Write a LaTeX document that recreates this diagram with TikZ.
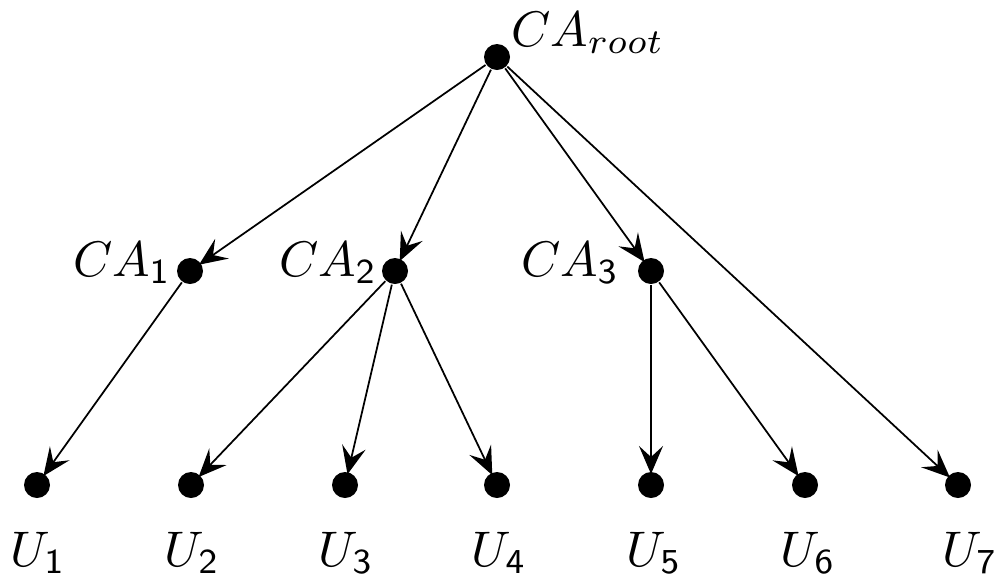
\documentclass[tikz,border=0pt]{standalone}
\usetikzlibrary{arrows.meta}
\begin{document}
\begin{tikzpicture}[x=0.2pt,y=-0.2pt,
  dot/.style={circle,fill=black,inner sep=0pt,minimum size=5.2pt},
  edge/.style={-{Stealth[length=5.6pt,width=4.8pt,inset=2.2pt]},line width=0.35pt,shorten >=-0.6pt},
  lbl/.style={inner sep=0pt}]
\useasboundingbox (0,0) rectangle (1000,575);
% tree nodes
\node[dot] (root) at (497,57) {};
\node[dot] (ca1) at (190,271) {};
\node[dot] (ca2) at (395,271) {};
\node[dot] (ca3) at (651,271) {};
\node[dot] (u1) at (37,485) {};
\node[dot] (u2) at (191,485) {};
\node[dot] (u3) at (345,485) {};
\node[dot] (u4) at (497,485) {};
\node[dot] (u5) at (651,485) {};
\node[dot] (u6) at (805,485) {};
\node[dot] (u7) at (958,485) {};
% labels
\node[lbl,anchor=base west] (lroot) at (510,46) {$CA_{root}$};
\node[lbl,anchor=base east] (lca1) at (172,276) {$CA_{\mathsf{1}}$};
\node[lbl,anchor=base east] (lca2) at (378,276) {$CA_{\mathsf{2}}$};
\node[lbl,anchor=base east] (lca3) at (620,276) {$CA_{\mathsf{3}}$};
\node[lbl,anchor=base] (lu1) at (38,566) {$U_{\mathsf{1}}$};
\node[lbl,anchor=base] (lu2) at (192,566) {$U_{\mathsf{2}}$};
\node[lbl,anchor=base] (lu3) at (346,566) {$U_{\mathsf{3}}$};
\node[lbl,anchor=base] (lu4) at (499,566) {$U_{\mathsf{4}}$};
\node[lbl,anchor=base] (lu5) at (654,566) {$U_{\mathsf{5}}$};
\node[lbl,anchor=base] (lu6) at (808,566) {$U_{\mathsf{6}}$};
\node[lbl,anchor=base] (lu7) at (970,566) {$U_{\mathsf{7}}$};
% edges
\draw[edge] (root) -- (ca1);
\draw[edge] (root) -- (ca2);
\draw[edge] (root) -- (ca3);
\draw[edge] (root) -- (u7);
\draw[edge] (ca1) -- (u1);
\draw[edge] (ca2) -- (u2);
\draw[edge] (ca2) -- (u3);
\draw[edge] (ca2) -- (u4);
\draw[edge] (ca3) -- (u5);
\draw[edge] (ca3) -- (u6);
\end{tikzpicture}
\end{document}
